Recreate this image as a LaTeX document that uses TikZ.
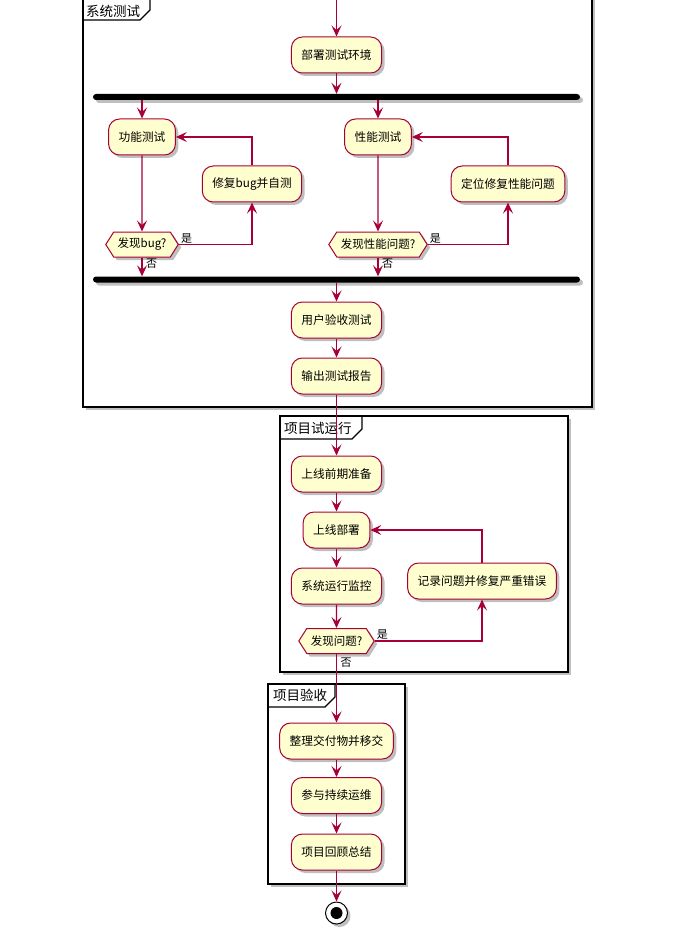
\documentclass[tikz,border=0pt]{standalone}
\usepackage{fontspec}
\setmainfont{Noto Sans CJK SC}
\usepackage{xcolor}
\usepackage{tikz}
\usetikzlibrary{shapes.symbols,arrows.meta,shadows}
\definecolor{umlRed}{HTML}{A80036}
\definecolor{umlFill}{HTML}{FEFECE}

\begin{document}
\begin{tikzpicture}[x=1pt,y=-1pt]
\tikzset{
    soft shadow/.style={
        drop shadow={shadow xshift=3pt, shadow yshift=-3pt, fill=black, opacity=0.25}
    },
    act/.style={
        rectangle, rounded corners=11pt,
        minimum height=36pt, inner xsep=10pt,
        draw=umlRed, fill=umlFill, line width=1pt,
        font=\fontsize{11.7}{13}\selectfont, soft shadow
    },
    decision/.style={
        signal, signal to=west and east, signal pointer angle=115,
        minimum height=25pt, inner xsep=4pt, inner ysep=0pt,
        draw=umlRed, fill=umlFill, line width=1pt,
        font=\fontsize{11.5}{12}\selectfont, soft shadow
    },
    forkbar/.style={
        rectangle, rounded corners=3pt, fill=black,
        minimum width=487pt, minimum height=6pt, inner sep=0pt, soft shadow
    },
    frame/.style={draw=black, fill=white, line width=1.5pt, soft shadow},
    tab/.style={draw=black, line width=1.2pt},
    title/.style={anchor=west, inner sep=1pt, font=\fontsize{13.5}{15}\selectfont},
    lbl/.style={inner sep=1pt, font=\fontsize{11}{12}\selectfont},
    flow/.style={draw=umlRed, line width=1.1pt, -{Stealth[length=11pt,width=10pt,inset=4.5pt]}},
    stopnode/.style={circle, draw=black, fill=white, line width=1pt, minimum size=22pt, inner sep=0pt, soft shadow}
}
\useasboundingbox (0,0) rectangle (678,941);
\clip (0,0) rectangle (678,941);

% Cadre
\draw[frame] (83,-20) rectangle (592,407);
\draw[tab] (83,20) -- (140,20) -- (150,10) -- (150,-20);
\node[title] (t1) at (85,11) {系统测试};

\draw[frame] (280,416) rectangle (568,672);
\draw[tab] (280,439) -- (352,439) -- (362,429) -- (362,416);
\node[title] (t2) at (283,428) {项目试运行};

\draw[frame] (268,684) rectangle (405,884);
\draw[tab] (268,707) -- (325,707) -- (335,697) -- (335,684);
\node[title] (t3) at (272,695) {项目验收};

% Noduri - sistem
\coordinate (start) at (336.5,-10);
\node[act] (deploy) at (336.5,55) {部署测试环境};
\node[forkbar] (fork1) at (336.5,97) {};
\node[act] (func) at (142,137) {功能测试};
\node[act] (fixbug) at (252,184) {修复bug并自测};
\node[decision] (decbug) at (142,244.5) {发现bug?};
\node[act] (perf) at (378,137) {性能测试};
\node[act] (fixperf) at (508,184) {定位修复性能问题};
\node[decision] (decperf) at (378,244.5) {发现性能问题?};
\node[forkbar] (fork2) at (336.5,279.5) {};
\node[act] (uat) at (336.5,320) {用户验收测试};
\node[act] (report) at (336.5,376) {输出测试报告};

% Noduri - 试运行
\node[act] (prep) at (336.5,474) {上线前期准备};
\node[act] (golive) at (336.5,530) {上线部署};
\node[act] (monitor) at (336.5,586) {系统运行监控};
\node[act] (recfix) at (482,581) {记录问题并修复严重错误};
\node[decision] (decissue) at (336.5,641) {发现问题?};

% Noduri - 验收
\node[act] (handover) at (336.5,741) {整理交付物并移交};
\node[act] (ops) at (336.5,795.5) {参与持续运维};
\node[act] (review) at (336.5,852) {项目回顾总结};
\node[stopnode] (stop) at (336.5,913) {};
\node[circle, fill=black, minimum size=12pt, inner sep=0pt] (stopdot) at (stop) {};

% Sageti
\draw[flow] (start) -- (deploy);
\draw[flow] (deploy) -- (deploy |- fork1.north);
\draw[flow] (fork1.south -| func) -- (func);
\draw[flow] (fork1.south -| perf) -- (perf);
\draw[flow] (func) -- (decbug);
\draw[flow] (decbug.east) -| (fixbug.south);
\draw[flow] (fixbug.north) |- (func.east);
\draw[flow] (decbug.south) -- (decbug.south |- fork2.north);
\draw[flow] (perf) -- (decperf);
\draw[flow] (decperf.east) -| (fixperf.south);
\draw[flow] (fixperf.north) |- (perf.east);
\draw[flow] (decperf.south) -- (decperf.south |- fork2.north);
\draw[flow] (fork2.south -| uat) -- (uat);
\draw[flow] (uat) -- (report);
\draw[flow] (report) -- (prep);
\draw[flow] (prep) -- (golive);
\draw[flow] (golive) -- (monitor);
\draw[flow] (monitor) -- (decissue);
\draw[flow] (decissue.east) -| (recfix.south);
\draw[flow] (recfix.north) |- (golive.east);
\draw[flow] (decissue.south) -- (handover);
\draw[flow] (handover) -- (ops);
\draw[flow] (ops) -- (review);
\draw[flow] (review) -- (stop);

% Etichete
\node[lbl, anchor=south west] (yes1) at ([xshift=1pt]decbug.east) {是};
\node[lbl, anchor=north west] (no1) at ([xshift=3pt]decbug.south) {否};
\node[lbl, anchor=south west] (yes2) at ([xshift=1pt]decperf.east) {是};
\node[lbl, anchor=north west] (no2) at ([xshift=3pt]decperf.south) {否};
\node[lbl, anchor=south west] (yes3) at ([xshift=1pt]decissue.east) {是};
\node[lbl, anchor=north west] (no3) at ([xshift=3pt,yshift=-3pt]decissue.south) {否};
\end{tikzpicture}
\end{document}
